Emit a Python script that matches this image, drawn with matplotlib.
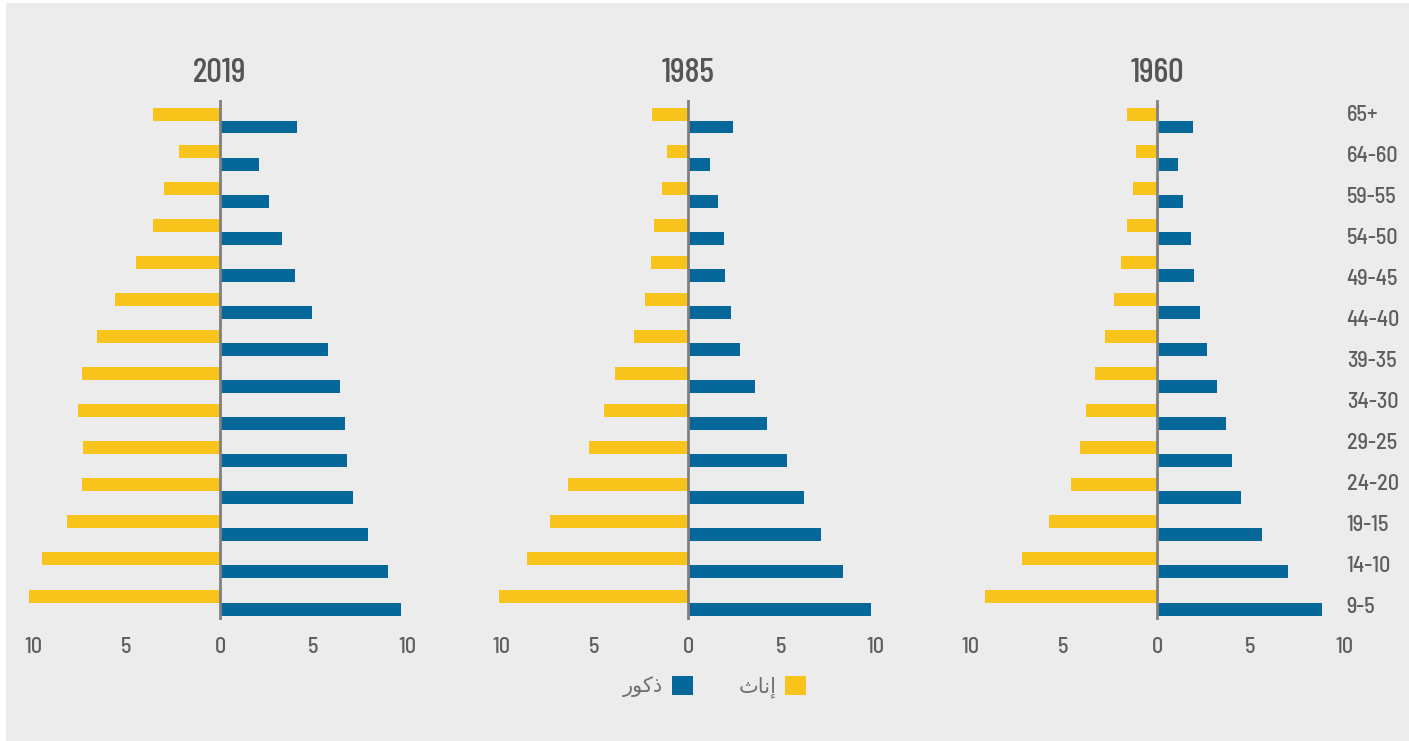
import numpy as np
import matplotlib
import matplotlib.pyplot as plt
from matplotlib import font_manager
from matplotlib.patches import Patch, Rectangle
from matplotlib.ticker import FuncFormatter
matplotlib.use('Agg')

years = ['2019', '1985', '1960']
ages = ['65+', '64-60', '59-55', '54-50', '49-45', '44-40', '39-35',
        '34-30', '29-25', '24-20', '19-15', '14-10', '9-5']

# bars listed from the top group to the bottom one
female_2019 = [3.6, 2.2, 3.0, 3.6, 4.5, 5.6, 6.6, 7.4, 7.6, 7.3, 7.4, 8.2, 9.5, 10.2]
male_2019 = [4.1, 2.1, 2.6, 3.3, 4.0, 4.9, 5.8, 6.4, 6.7, 6.8, 7.1, 7.9, 9.0, 9.7]
female_1985 = [1.9, 1.1, 1.4, 1.8, 2.0, 2.3, 2.9, 3.9, 4.5, 5.3, 6.4, 7.4, 8.6, 10.1]
male_1985 = [2.4, 1.2, 1.6, 1.9, 2.0, 2.3, 2.8, 3.6, 4.2, 5.3, 6.2, 7.1, 8.3, 9.8]
female_1960 = [1.6, 1.1, 1.3, 1.6, 1.9, 2.3, 2.8, 3.3, 3.8, 4.1, 4.6, 5.8, 7.2, 9.2]
male_1960 = [1.9, 1.1, 1.4, 1.8, 2.0, 2.3, 2.7, 3.2, 3.7, 4.0, 4.5, 5.6, 7.0, 8.8]

females = [female_2019, female_1985, female_1960]
males = [male_2019, male_1985, male_1960]

# arabic labels written in presentation forms, visual order (no shaping in mpl)
label_female = '\uFE99\uFE8E\uFEE7\uFE87'   # إناث
label_male = '\uFEAD\uFEEE\uFEDB\uFEAB'     # ذكور

YELLOW = '#f8c41c'
BLUE = '#05679a'
BG = '#ececec'
TXT = '#5e5e5e'


def pick_font(cands):
    names = {f.name for f in font_manager.fontManager.ttflist}
    for c in cands:
        if c in names:
            return c
    return 'Liberation Sans'


num_font = pick_font(['Barlow Semi Condensed', 'Roboto Condensed', 'PT Sans Narrow', 'Liberation Sans'])
title_font = pick_font(['Barlow Condensed', 'Barlow Semi Condensed', 'Roboto Condensed', 'PT Sans Narrow'])

W, H = 1409, 741
fig = plt.figure(figsize=(W / 100, H / 100), dpi=100, facecolor='white')
fig.patches.append(Rectangle((6 / W, 0), 1, 1 - 3 / H, transform=fig.transFigure,
                             facecolor=BG, edgecolor='none', zorder=-10))

zeros = [220, 688, 1157]
scale = 18.7            # px per unit
half = 11
ax_w = 2 * half * scale
top_px, bot_px = 100, 620
grp = 37.08
first = 120.5
ylo = (top_px - first) / grp
yhi = (bot_px - first) / grp

n = len(female_2019)
pos = np.arange(n)
bh = 0.35

axes = []
for k in range(3):
    left = (zeros[k] - ax_w / 2) / W
    ax = fig.add_axes([left, 1 - bot_px / H, ax_w / W, (bot_px - top_px) / H])
    ax.set_facecolor('none')
    ax.barh(pos - bh / 2, [-v for v in females[k]], height=bh, color=YELLOW, zorder=2)
    ax.barh(pos + bh / 2, males[k], height=bh, color=BLUE, zorder=2)
    ax.axvline(0, color='#808080', lw=2, zorder=3)
    ax.set_xlim(-half, half)
    ax.set_ylim(yhi, ylo)
    ax.set_xticks([-10, -5, 0, 5, 10])
    ax.xaxis.set_major_formatter(FuncFormatter(lambda v, p: '%d' % abs(v)))
    ax.tick_params(axis='x', length=0, pad=12, labelsize=16, labelcolor=TXT)
    for lab in ax.get_xticklabels():
        lab.set_family(num_font)
        lab.set_weight('medium')
    ax.set_yticks([])
    for s in ax.spines.values():
        s.set_visible(False)
    ax.text(0.5, 1 + 27 / (bot_px - top_px), years[k], transform=ax.transAxes,
            ha='center', va='center', fontsize=25, color='#555555',
            family=title_font, weight='medium')
    axes.append(ax)

# age labels on the right, own spacing
axr = axes[2].twinx()
lab_top, lab_step = 113, 41
axr.set_ylim((bot_px - lab_top) / lab_step, (top_px - lab_top) / lab_step)
axr.set_yticks(range(len(ages)))
axr.set_yticklabels(ages, family=num_font, weight='medium')
axr.tick_params(axis='y', length=0, pad=-11.5, labelsize=16, labelcolor=TXT)
for s in axr.spines.values():
    s.set_visible(False)

handles = [Patch(facecolor=BLUE, edgecolor='none'), Patch(facecolor=YELLOW, edgecolor='none')]
leg = fig.legend(handles, [label_male, label_female], ncol=2, markerfirst=False,
                 loc='center', bbox_to_anchor=(0.507, 1 - 687 / H), frameon=False,
                 handlelength=1.0, handleheight=1.0, handletextpad=0.4,
                 columnspacing=2.2, prop={'family': 'DejaVu Sans', 'size': 15})
for t in leg.get_texts():
    t.set_color('#707070')

fig.savefig('out.png', dpi=100, facecolor=fig.get_facecolor())
